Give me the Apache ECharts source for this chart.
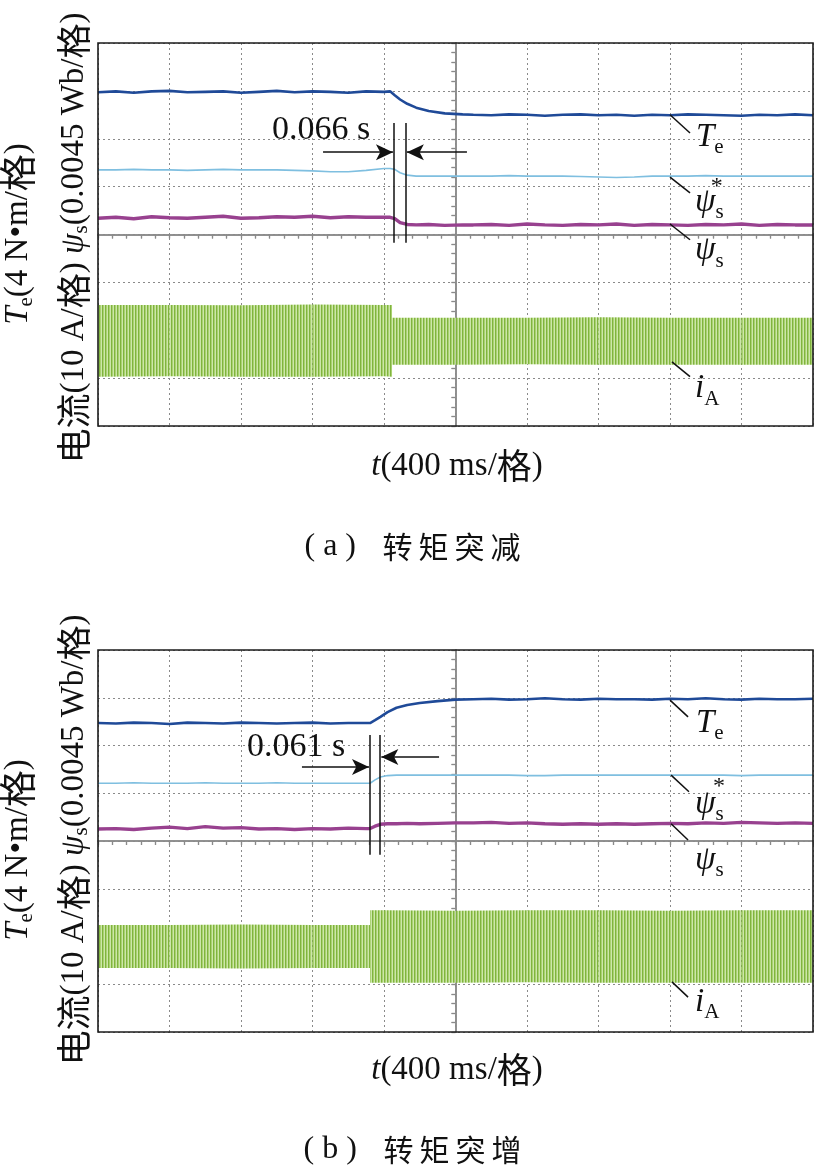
<!DOCTYPE html>
<html><head><meta charset="utf-8">
<script src="https://cdn.jsdelivr.net/npm/echarts@6/dist/echarts.min.js"></script>
<style>html,body{margin:0;padding:0;background:#fff}#c{width:814px;height:1166px}</style>
</head><body><div id="c"></div>
<script>
// Time: ms relative to screen centre (400 ms/div). Values: screen divisions (centre = 0).
// ---------- (a) torque step down ----------
const tA = [-2000,-1900,-1800,-1700,-1600,-1500,-1400,-1300,-1200,-1100,-1000,-900,-800,-700,-600,-500,-400,
  -366,-340,-310,-270,-220,-150,-60,40,
  100,200,300,400,500,600,700,800,900,1000,1100,1200,1300,1400,1500,1600,1700,1800,1900,2000];
const teA = [2.97,2.99,2.96,2.99,3.00,2.97,2.98,2.99,2.96,2.98,3.00,2.97,2.99,2.98,2.96,2.99,2.98,
  2.99,2.91,2.82,2.73,2.65,2.58,2.53,2.51,
  2.50,2.49,2.51,2.50,2.48,2.50,2.51,2.49,2.50,2.48,2.50,2.49,2.51,2.50,2.49,2.48,2.50,2.49,2.51,2.49];
const psiRefA = [1.35,1.35,1.36,1.35,1.35,1.34,1.35,1.36,1.35,1.35,1.35,1.34,1.33,1.31,1.31,1.34,1.38,
  1.38,1.36,1.29,1.24,1.22,1.22,1.22,1.22,
  1.22,1.22,1.23,1.22,1.22,1.22,1.21,1.20,1.19,1.20,1.22,1.22,1.22,1.23,1.22,1.22,1.22,1.22,1.22,1.22];
const psiA = [0.34,0.36,0.33,0.37,0.35,0.34,0.36,0.38,0.34,0.35,0.37,0.36,0.38,0.35,0.37,0.36,0.36,
  0.36,0.33,0.25,0.21,0.20,0.21,0.19,0.20,
  0.20,0.21,0.19,0.22,0.20,0.19,0.21,0.20,0.22,0.19,0.21,0.20,0.19,0.21,0.20,0.22,0.19,0.21,0.20,0.20];
const tIaA = [-2000,-1600,-1200,-800,-400,-355,-355,0,400,800,1200,1600,2000];
const iaTopA = [-1.47,-1.47,-1.48,-1.46,-1.47,-1.47,-1.74,-1.74,-1.74,-1.73,-1.74,-1.74,-1.74];
const iaBotA = [-2.97,-2.96,-2.97,-2.97,-2.96,-2.97,-2.72,-2.72,-2.71,-2.72,-2.72,-2.72,-2.72];

// ---------- (b) torque step up ----------
const tB = [-2000,-1900,-1800,-1700,-1600,-1500,-1400,-1300,-1200,-1100,-1000,-900,-800,-700,-600,-500,
  -478,-450,-420,-380,-330,-270,-200,-100,0,
  100,200,300,400,500,600,700,800,900,1000,1100,1200,1300,1400,1500,1600,1700,1800,1900,2000];
const teB = [2.47,2.46,2.48,2.47,2.45,2.48,2.47,2.46,2.48,2.47,2.46,2.47,2.48,2.46,2.47,2.47,
  2.47,2.53,2.60,2.70,2.79,2.85,2.89,2.93,2.96,
  2.97,2.98,2.96,2.97,2.99,2.97,2.96,2.98,2.97,2.97,2.96,2.98,2.97,2.99,2.97,2.96,2.98,2.97,2.97,2.98];
const psiRefB = [1.21,1.21,1.22,1.21,1.21,1.21,1.22,1.21,1.21,1.21,1.22,1.21,1.21,1.21,1.21,1.21,
  1.21,1.28,1.34,1.37,1.38,1.38,1.38,1.38,1.38,
  1.38,1.38,1.38,1.37,1.37,1.38,1.38,1.38,1.38,1.38,1.38,1.38,1.38,1.38,1.38,1.37,1.38,1.38,1.38,1.38];
const psiB = [0.25,0.26,0.24,0.27,0.29,0.26,0.30,0.27,0.28,0.25,0.26,0.24,0.26,0.25,0.27,0.26,
  0.26,0.31,0.35,0.36,0.36,0.37,0.36,0.37,0.38,
  0.38,0.39,0.37,0.38,0.36,0.35,0.36,0.35,0.36,0.35,0.36,0.37,0.36,0.38,0.37,0.39,0.38,0.37,0.38,0.37];
const tIaB = [-2000,-1600,-1200,-800,-500,-478,-478,-400,0,400,800,1200,1600,2000];
const iaTopB = [-1.76,-1.76,-1.75,-1.76,-1.76,-1.76,-1.45,-1.45,-1.46,-1.45,-1.45,-1.46,-1.45,-1.45];
const iaBotB = [-2.66,-2.66,-2.67,-2.66,-2.66,-2.66,-2.97,-2.97,-2.97,-2.96,-2.97,-2.97,-2.97,-2.97];

// annotation texts
const dtA = '0.066 s', dtB = '0.061 s';
const xTitle = '{it|t}(400 ms/{c|格})';
const yTitle1 = '{it|T}{sub|e}(4 N•m/{c|格})';
const yTitle2 = '{c|电流}(10 A/{c|格}) {it|ψ}{sub|s}(0.0045 Wb/{c|格})';
const captionA = {tag:'a', text:['转', '矩', '突', '减']};
const captionB = {tag:'b', text:['转', '矩', '突', '增']};

const serif = '"Liberation Serif","Times New Roman","Noto Sans CJK SC",serif';
const cjk = '"Noto Sans CJK SC","Liberation Serif",sans-serif';
const pairs = (t, v) => t.map((x, i) => [x, v[i]]);

const pat = document.createElement('canvas'); pat.width = 3; pat.height = 4;
const pg = pat.getContext('2d');
pg.fillStyle = '#cde6aa'; pg.fillRect(0, 0, 3, 4);
pg.fillStyle = '#80b33e'; pg.fillRect(0, 0, 1, 4);
pg.fillStyle = '#a9d271'; pg.fillRect(1, 0, 1, 4);

const C = {te:'#1f4a98', ref:'#7fbfe0', psi:'#98418f', ia:'#86bd3f', axis:'#8a8a8a', ink:'#111'};

const labRich = {
  it:{fontFamily:serif, fontStyle:'italic', fontSize:33, lineHeight:42, color:C.ink},
  sub:{fontFamily:serif, fontSize:21, lineHeight:14, verticalAlign:'bottom', color:C.ink},
  n:{fontFamily:serif, fontSize:34, lineHeight:40, color:C.ink},
  st:{fontFamily:serif, fontSize:24, lineHeight:24, color:C.ink}
};

function xAx(gi, onIdx, inside, main){
  return {type:'value', gridIndex:gi, min:-2000, max:2000, interval:400,
    axisLine:{show:true, onZero:true, onZeroAxisIndex:onIdx, lineStyle:{color:C.axis, width:1.5}},
    axisTick:{show:true, inside:inside, length:4, lineStyle:{color:C.axis, width:1.2}},
    minorTick:{show:true, splitNumber:5, length:4, lineStyle:{color:C.axis, width:1.2}},
    axisLabel:{show:false},
    splitLine:{show:main, lineStyle:{type:[2,3], color:'#8a8a8a', width:1}}};
}
function yAx(gi, onIdx, inside, main){
  return {type:'value', gridIndex:gi, min:-4, max:4, interval:1,
    axisLine:{show:true, onZero:true, onZeroAxisIndex:onIdx, lineStyle:{color:C.axis, width:1.5}},
    axisTick:{show:true, inside:inside, length:4, lineStyle:{color:C.axis, width:1.2}},
    minorTick:{show:true, splitNumber:5, length:4, lineStyle:{color:C.axis, width:1.2}},
    axisLabel:{show:false},
    splitLine:{show:main, lineStyle:{type:[2,3], color:'#8a8a8a', width:1}}};
}

function trace(ax, t, v, color, w, extra){
  return Object.assign({type:'line', xAxisIndex:ax, yAxisIndex:ax, data:pairs(t, v), symbol:'none',
    showSymbol:false, lineStyle:{color:color, width:w}, silent:true, z:3}, extra || {});
}
// current envelope: filled between top and bottom envelope values
function band(ax, t, top, bot){
  const rows = [];
  for (let i = 0; i < t.length - 1; i++) rows.push([t[i], top[i], bot[i], t[i + 1], top[i + 1], bot[i + 1]]);
  return {type:'custom', xAxisIndex:ax, yAxisIndex:ax, data:rows, silent:true, z:2,
    encode:{x:[0, 3], y:[1, 2, 4, 5]},
    renderItem:(params, api) => {
      const pts = [api.coord([api.value(0), api.value(1)]), api.coord([api.value(3), api.value(4)]),
                   api.coord([api.value(3), api.value(5)]), api.coord([api.value(0), api.value(2)])];
      return {type:'polygon', shape:{points:pts}, style:{fill:{image:pat, repeat:'repeat'}, stroke:null}};
    }};
}
const arrowEnd = {symbol:'arrow', symbolSize:[12,17]};
function seg(a, b, tip){ return [{coord:a}, Object.assign({coord:b}, tip ? arrowEnd : {})]; }
function lab(coord, text){
  return {coord:coord, value:0, label:{show:true, position:'inside', align:'left', verticalAlign:'middle',
    formatter:text, rich:labRich, fontFamily:serif, fontSize:30, color:C.ink}};
}
function markers(vx, vy, arrows, leaders, labels){
  return {
    markLine:{silent:true, animation:false, symbol:['none','none'], label:{show:false},
      lineStyle:{color:C.ink, width:1.5, type:'solid'},
      data:[seg([vx[0], vy[0]], [vx[0], vy[1]]), seg([vx[1], vy[0]], [vx[1], vy[1]])]
        .concat(arrows.map(a => seg(a[0], a[1], true)))
        .concat(leaders.map(l => seg(l[0], l[1], false)))},
    markPoint:{silent:true, animation:false, symbol:'rect', symbolSize:1, itemStyle:{color:'rgba(0,0,0,0)'},
      data:labels}
  };
}

const mkA = markers([-344, -278], [2.33, -0.17],
  [[[-741, 1.72], [-350, 1.72]], [[64, 1.72], [-272, 1.72]]],
  [[[1200, 2.50], [1312, 2.12]], [[1200, 1.20], [1312, 0.87]], [[1200, 0.22], [1312, -0.11]], [[1211, -2.66], [1312, -2.97]]],
  [lab([-1027, 2.18], '{n|' + dtA + '}'),
   lab([1345, 2.04], '{it|T}{sub|e}'),
   lab([1340, 0.68], '{it|ψ}{sub|s}'), lab([1428, 1.00], '{st|*}'),
   lab([1340, -0.34], '{it|ψ}{sub|s}'),
   lab([1340, -3.22], '{it|i}{sub|A}')]);
const mkB = markers([-482, -421], [2.22, -0.29],
  [[[-859, 1.55], [-484, 1.55]], [[-92, 1.76], [-415, 1.76]]],
  [[[1200, 2.95], [1301, 2.60]], [[1206, 1.38], [1306, 1.03]], [[1206, 0.36], [1301, 0.02]], [[1211, -2.95], [1301, -3.27]]],
  [lab([-1166, 1.97], '{n|' + dtB + '}'),
   lab([1345, 2.47], '{it|T}{sub|e}'),
   lab([1340, 0.77], '{it|ψ}{sub|s}'), lab([1440, 1.14], '{st|*}'),
   lab([1340, -0.40], '{it|ψ}{sub|s}'),
   lab([1340, -3.37], '{it|i}{sub|A}')]);

function gRich(size, cjkExtra){
  return {
    it:{fontFamily:serif, fontStyle:'italic', fontSize:size, fill:C.ink},
    sub:{fontFamily:serif, fontSize:Math.round(size * 0.65), lineHeight:14, verticalAlign:'bottom', fill:C.ink},
    c:{fontFamily:cjk, fontSize:size + cjkExtra, fill:C.ink},
    w:{fontFamily:cjk, fontSize:size, padding:[0, 3, 0, 3], fill:C.ink},
    p:{fontFamily:serif, fontSize:size + 2, padding:[0, 4, 0, 4], fill:C.ink},
    g:{fontFamily:serif, fontSize:size, padding:[0, 6, 0, 6], fill:C.ink}
  };
}
function txt(x, y, text, size, rot, cjkExtra){
  return {type:'text', x:x, y:y, rotation:rot || 0, silent:true,
    style:{text:text, rich:gRich(size, cjkExtra || 2), fontFamily:serif, fontSize:size, fill:C.ink, align:'center', verticalAlign:'middle'}};
}
const capText = cap => '{p|(}{p|' + cap.tag + '}{p|)}{g| }' + cap.text.map(ch => '{w|' + ch + '}').join('');

const option = {
  animation:false,
  backgroundColor:'#fff',
  grid:[
    {left:98, top:43, width:715, height:383, show:true, borderColor:'#1c1c1c', borderWidth:1.6, backgroundColor:'transparent', z:4},
    {left:98, top:650, width:715, height:382, show:true, borderColor:'#1c1c1c', borderWidth:1.6, backgroundColor:'transparent', z:4}
  ],
  xAxis:[xAx(0, 0, false, true), xAx(0, 1, true, false), xAx(1, 2, false, true), xAx(1, 3, true, false)],
  yAxis:[yAx(0, 0, false, true), yAx(0, 1, true, false), yAx(1, 2, false, true), yAx(1, 3, true, false)],
  series:[
    band(0, tIaA, iaTopA, iaBotA),
    trace(0, tA, psiRefA, C.ref, 1.6),
    trace(0, tA, psiA, C.psi, 3.4),
    trace(0, tA, teA, C.te, 2.6, mkA),
    band(2, tIaB, iaTopB, iaBotB),
    trace(2, tB, psiRefB, C.ref, 1.6),
    trace(2, tB, psiB, C.psi, 3.4),
    trace(2, tB, teB, C.te, 2.6, mkB)
  ],
  graphic:[
    txt(18, 234, yTitle1, 33, Math.PI / 2, 4),
    txt(74, 238, yTitle2, 33, Math.PI / 2, 2),
    txt(457, 466, xTitle, 33),
    txt(412, 547, capText(captionA), 30),
    txt(18, 850, yTitle1, 33, Math.PI / 2, 4),
    txt(74, 840, yTitle2, 33, Math.PI / 2, 2),
    txt(457, 1070, xTitle, 33),
    txt(412, 1150, capText(captionB), 30)
  ]
};
const chart = echarts.init(document.getElementById('c'), null, {renderer:'canvas', width:814, height:1166});
chart.setOption(option);
</script></body></html>
